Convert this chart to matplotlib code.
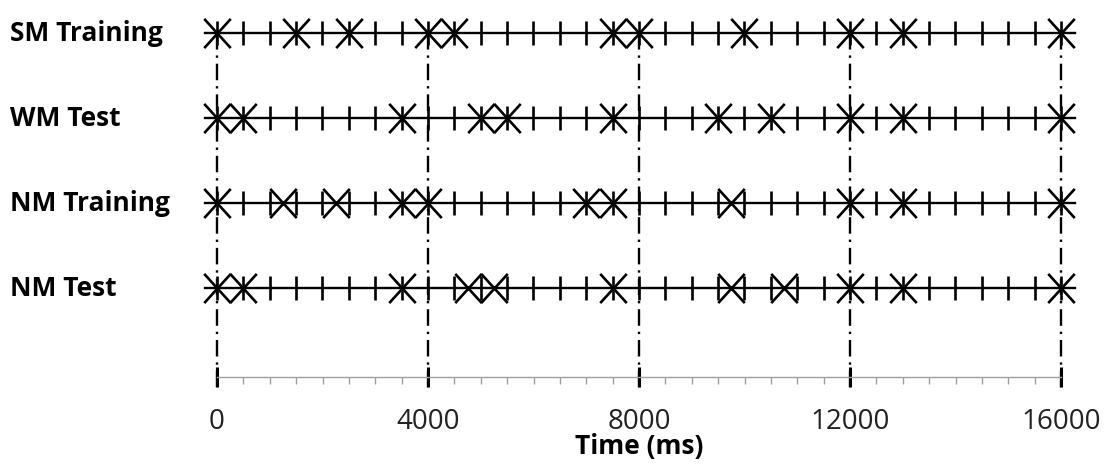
import matplotlib
matplotlib.use("Agg")
import matplotlib.pyplot as plt
from matplotlib.path import Path

# rows (top to bottom) and event times in ms
rows = ["SM Training", "WM Test", "NM Training", "NM Test"]
sm_training = [0, 1500, 2500, 4000, 4500, 7500, 8000, 10000, 12000, 13000, 16000]
wm_test = [0, 500, 3500, 5000, 5500, 7500, 9500, 10500, 12000, 13000, 16000]
nm_training = [0, 1250, 2250, 3500, 4000, 7000, 7500, 9750, 12000, 13000, 16000]
nm_test = [0, 500, 3500, 4750, 5250, 7500, 9750, 10750, 12000, 13000, 16000]
events = [sm_training, wm_test, nm_training, nm_test]

tick_times = list(range(0, 16001, 500))
block_times = [0, 4000, 8000, 12000, 16000]

W, H = 1113, 466
fig = plt.figure(figsize=(W / 100, H / 100), dpi=100)

# main drawing axes: whole figure, x in ms, y in row index
ax = fig.add_axes([0, 0, 1, 1])
x0_px, px_per_ms = 217, 844 / 16000
ax.set_xlim(-x0_px / px_per_ms, (W - x0_px) / px_per_ms)
row0_px, row_step = 33, 85
ax.set_ylim((H - row0_px) / row_step, -row0_px / row_step)
ax.set_axis_off()

xmark = Path([(-1, -1.1), (1, 1.1), (-1, 1.1), (1, -1.1)],
             [Path.MOVETO, Path.LINETO, Path.MOVETO, Path.LINETO])

for t in block_times:
    ax.plot([t, t], [0, (393 - row0_px) / row_step], color="black", lw=1.7,
            dashes=(7, 2.5, 1, 2.5), zorder=1)

for i, (name, ev) in enumerate(zip(rows, events)):
    ax.plot([-230, 16270], [i, i], color="black", lw=1.7, zorder=2)
    ax.plot(tick_times, [i] * len(tick_times), ls="none", marker="|",
            markersize=17, mew=1.9, color="black", zorder=3)
    ax.plot(ev, [i] * len(ev), ls="none", marker=xmark, markersize=21,
            mew=1.9, color="black", zorder=3)
    ax.text(10 / W, i, name, transform=ax.get_yaxis_transform(),
            ha="left", va="center", fontsize=19, fontweight="bold",
            family="Open Sans")

# time axis
tax = fig.add_axes([x0_px / W, (H - 377) / H, 844 / W, 0.0001])
tax.set_xlim(0, 16000)
tax.set_yticks([])
for s in ["top", "left", "right"]:
    tax.spines[s].set_visible(False)
tax.spines["bottom"].set_color("#a0a0a0")
tax.spines["bottom"].set_linewidth(1)
tax.set_xticks(block_times)
tax.set_xticks(tick_times, minor=True)
tax.tick_params(axis="x", which="major", direction="inout", length=15,
                width=2.2, color="black", labelsize=20, pad=15)
tax.tick_params(axis="x", which="minor", direction="out", length=5,
                width=1, color="#a0a0a0")
for lab in tax.get_xticklabels():
    lab.set_family("Open Sans")
    lab.set_color("#222222")
tax.set_xlabel("Time (ms)", fontsize=19, fontweight="bold",
               family="Open Sans", labelpad=-2)

fig.savefig("out.png", dpi=100)
